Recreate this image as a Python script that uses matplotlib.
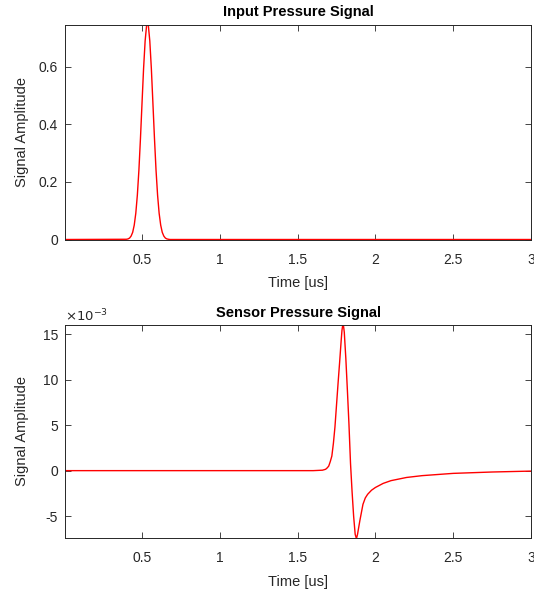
import numpy as np
import matplotlib.pyplot as plt

plt.rcParams['font.family'] = ['Liberation Sans', 'DejaVu Sans']
plt.rcParams['axes.unicode_minus'] = False

# input pulse (time in us, amplitude)
t_in = [0.005, 0.40, 0.41, 0.42, 0.43, 0.44, 0.45, 0.46, 0.47, 0.48, 0.49, 0.50,
        0.51, 0.52, 0.53, 0.54, 0.55, 0.56, 0.57, 0.58, 0.59, 0.60, 0.61, 0.62,
        0.63, 0.64, 0.65, 0.66, 0.67, 0.68, 3.0]
p_in = [0.0, 0.0008, 0.002, 0.005, 0.012, 0.025, 0.050, 0.091, 0.154, 0.241, 0.351, 0.473,
        0.593, 0.689, 0.746, 0.746, 0.689, 0.593, 0.473, 0.351, 0.241, 0.154, 0.091, 0.050,
        0.025, 0.012, 0.005, 0.002, 0.0008, 0.0, 0.0]

# sensor signal (time in us, amplitude in 1e-3)
t_s = [0.005, 1.60, 1.66, 1.68, 1.69, 1.70, 1.71, 1.72, 1.73, 1.74, 1.75, 1.76, 1.77,
       1.78, 1.785, 1.79, 1.795, 1.80, 1.81, 1.82, 1.83, 1.84, 1.85, 1.86, 1.87,
       1.877, 1.88, 1.885, 1.89, 1.895, 1.90, 1.91, 1.92, 1.935, 1.95, 1.975, 2.00,
       2.05, 2.10, 2.20, 2.30, 2.50, 2.75, 3.0]
p_s = [0.0, 0.0, 0.05, 0.15, 0.3, 0.5, 1.0, 1.6, 3.0, 4.8, 7.2, 9.6, 11.9,
       14.3, 15.4, 16.0, 15.9, 15.2, 12.3, 8.8, 5.1, 0.8, -2.3, -5.0, -7.0,
       -7.4, -7.35, -7.0, -6.5, -6.0, -5.5, -4.6, -3.7, -3.0, -2.6, -2.15, -1.85,
       -1.4, -1.1, -0.75, -0.55, -0.3, -0.15, -0.05]

xticks = [0.5, 1, 1.5, 2, 2.5, 3]
xtick_labels = ['0.5', '1', '1.5', '2', '2.5', '3']
gray = '#262626'

fig = plt.figure(figsize=(5.34, 5.94), dpi=100)
ax1 = fig.add_axes([65/534, 1-239.5/594, 466/534, 215/594])
ax2 = fig.add_axes([65/534, 1-538/594, 466/534, 213/594])

ax1.plot(t_in, p_in, color='red', lw=1.0)
ax1.set_xlim(0.005, 3)
ax1.set_ylim(0, max(p_in))
ax1.set_yticks([0, 0.2, 0.4, 0.6])
ax1.set_yticklabels(['0', '0.2', '0.4', '0.6'])
ax1.set_title('Input Pressure Signal', fontsize=10.5, fontweight='bold', pad=6)

ax2.plot(t_s, p_s, color='red', lw=1.0)
ax2.set_xlim(0.005, 3)
ax2.set_ylim(min(p_s), max(p_s))
ax2.set_yticks([-5, 0, 5, 10, 15])
ax2.set_yticklabels(['-5', '0', '5', '10', '15'])
ax2.set_title('Sensor Pressure Signal', fontsize=10.5, fontweight='bold', pad=6)
ax2.text(0, 1.003, r'$\times10^{-3}$', transform=ax2.transAxes, fontsize=9.5,
         color=gray, ha='left', va='bottom')

for ax in (ax1, ax2):
    ax.set_xticks(xticks)
    ax.set_xticklabels(xtick_labels)
    ax.set_xlabel('Time [us]', fontsize=10.5, color=gray, labelpad=7)
    ax.set_ylabel('Signal Amplitude', fontsize=10.5, color=gray)
    ax.yaxis.set_label_coords(-0.077, 0.5)
    ax.tick_params(direction='in', top=True, right=True, length=4, width=0.6,
                   colors=gray, labelsize=10)
    ax.tick_params(axis='x', pad=9.5)
    ax.tick_params(axis='y', pad=5)
    for s in ax.spines.values():
        s.set_color(gray)
        s.set_linewidth(0.7)

fig.savefig('out.png', dpi=100)
